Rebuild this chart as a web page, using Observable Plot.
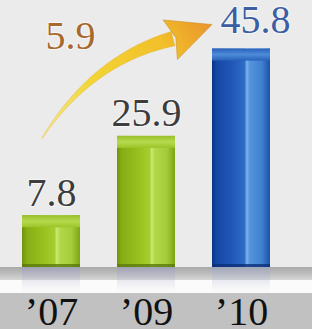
<!DOCTYPE html>
<html><head><meta charset="utf-8">
<script src="https://cdn.jsdelivr.net/npm/d3@7"></script>
<script src="https://cdn.jsdelivr.net/npm/@observablehq/plot@0.6"></script>
<style>
html,body{margin:0;padding:0;background:#ebebeb;overflow:hidden;}
#chart svg{display:block;}
#chart svg text{font-family:"Liberation Serif","Times New Roman",Times,serif !important;}
</style></head><body><div id="chart"></div>
<script>
// ---- data ----
const years = ["’07", "’09", "’10"];
const values = [7.8, 25.9, 45.8];
const growthLabel = "5.9";
const highlightYear = "’10";

const data = years.map((year, i) => ({year, value: values[i], hi: year === highlightYear}));
const yMin = -4, yMax = 47.3;
const serif = "Liberation Serif";

const plot = Plot.plot({
  width: 312, height: 329,
  marginTop: 42, marginBottom: 62, marginLeft: 3, marginRight: 23,
  style: {background: "transparent", overflow: "visible", fontFamily: serif},
  x: {domain: years, paddingInner: 0.39, paddingOuter: 0.2, label: null},
  y: {domain: [yMin, yMax], axis: null},
  color: {type: "identity"},
  marks: [
    // reflection
    Plot.barY(data, {x: "year", y1: yMin, y2: yMin, insetBottom: -26,
      fill: d => d.hi ? "url(#reflB)" : "url(#reflG)"}),
    // bar body
    Plot.barY(data, {x: "year", y1: yMin, y2: "value",
      fill: d => d.hi ? "url(#blueFace)" : "url(#greenFace)"}),
    // top cap
    Plot.barY(data, {x: "year", y1: "value", y2: "value", insetBottom: -12,
      fill: d => d.hi ? "url(#blueCap)" : "url(#greenCap)"}),
    // bottom edge
    Plot.barY(data, {x: "year", y1: yMin, y2: yMin, insetTop: -3,
      fill: d => d.hi ? "#0b2f78" : "#5a7a0c", fillOpacity: 0.8}),
    Plot.axisX({tickSize: 0, tickPadding: 29, fontSize: 40, fontFamily: serif, fill: "#111", label: null}),
    Plot.text(data.filter(d => !d.hi), {x: "year", y: "value", text: d => d.value.toFixed(1),
      dy: -10, lineAnchor: "bottom", fontSize: 40, fontFamily: serif, fill: "#3d3d3d",
      stroke: "white", strokeWidth: 2, strokeOpacity: 0.6}),
    Plot.text(data.filter(d => d.hi), {x: "year", y: "value", text: d => d.value.toFixed(1),
      dx: 14, dy: -16, lineAnchor: "bottom", fontSize: 40, fontFamily: serif, fill: "#3c5ea3",
      stroke: "white", strokeWidth: 2, strokeOpacity: 0.6}),
    Plot.text([{label: growthLabel}], {x: () => years[0], y: () => values[values.length - 1],
      text: "label", dx: 19, lineAnchor: "bottom", fontSize: 40, fontFamily: serif, fill: "#a8692e",
      stroke: "white", strokeWidth: 2, strokeOpacity: 0.6})
  ]
});
document.getElementById("chart").append(plot);

// ---- decoration: gradients, floor bands, growth arrow ----
const svg = d3.select(plot);
const xs = plot.scale("x"), ys = plot.scale("y");
const bw = xs.bandwidth;
const y0 = ys.apply(yMin);

const bg = svg.insert("g", ":first-child");
bg.append("rect").attr("x", 0).attr("y", y0).attr("width", 312).attr("height", 13).attr("fill", "url(#band1)");
bg.append("rect").attr("x", 0).attr("y", y0 + 13).attr("width", 312).attr("height", 13).attr("fill", "#fbfbfb");
bg.append("rect").attr("x", 0).attr("y", y0 + 26).attr("width", 312).attr("height", 329 - y0 - 26).attr("fill", "#c1c1c1");

const defs = svg.insert("defs", ":first-child");
defs.html(`
<linearGradient id="band1" x1="0" y1="0" x2="0" y2="1">
  <stop offset="0" stop-color="#a9a9a9"/><stop offset="0.5" stop-color="#bdbdbd"/><stop offset="1" stop-color="#d6d6d6"/>
</linearGradient>
<linearGradient id="greenFace" x1="0" y1="0" x2="1" y2="0">
  <stop offset="0" stop-color="#6e920c"/><stop offset="0.08" stop-color="#86ad14"/>
  <stop offset="0.35" stop-color="#97c01e"/><stop offset="0.56" stop-color="#a5cd2e"/>
  <stop offset="0.6" stop-color="#cbe972"/><stop offset="0.65" stop-color="#b2d84a"/>
  <stop offset="0.86" stop-color="#a4cc3a"/><stop offset="1" stop-color="#7da414"/>
</linearGradient>
<linearGradient id="blueFace" x1="0" y1="0" x2="1" y2="0">
  <stop offset="0" stop-color="#083584"/><stop offset="0.08" stop-color="#1548a6"/>
  <stop offset="0.35" stop-color="#2158b8"/><stop offset="0.56" stop-color="#2f6cc8"/>
  <stop offset="0.6" stop-color="#7ab4ec"/><stop offset="0.65" stop-color="#5494dc"/>
  <stop offset="0.86" stop-color="#3f80d0"/><stop offset="1" stop-color="#1a52a8"/>
</linearGradient>
<linearGradient id="greenCap" x1="0" y1="0" x2="0" y2="1">
  <stop offset="0" stop-color="#98bf2a"/><stop offset="0.5" stop-color="#b6da4e"/><stop offset="1" stop-color="#9cc428"/>
</linearGradient>
<linearGradient id="blueCap" x1="0" y1="0" x2="0" y2="1">
  <stop offset="0" stop-color="#2a62bc"/><stop offset="0.5" stop-color="#4d8cd8"/><stop offset="1" stop-color="#2860b8"/>
</linearGradient>
<linearGradient id="reflG" x1="0" y1="0" x2="0" y2="1">
  <stop offset="0" stop-color="#9c9cc0" stop-opacity="0.6"/><stop offset="1" stop-color="#d8d8e8" stop-opacity="0"/>
</linearGradient>
<linearGradient id="reflB" x1="0" y1="0" x2="0" y2="1">
  <stop offset="0" stop-color="#9ca6c4" stop-opacity="0.6"/><stop offset="1" stop-color="#d8d8e8" stop-opacity="0"/>
</linearGradient>`);

// growth arrow from first to last value
const T = [xs.apply(years[0]) + bw / 2 - 9, ys.apply(values[0]) - 77];
const P = [xs.apply(years[years.length - 1]), ys.apply(values[values.length - 1]) - 24];
const dv = [P[0] - T[0], P[1] - T[1]];
const B = [T[0] + 0.771 * dv[0], T[1] + 0.876 * dv[1]];
const C = [T[0] + 0.297 * dv[0], T[1] + 0.695 * dv[1]];
const left = [], right = [];
for (let i = 0; i <= 30; i++) {
  const t = i / 30, mt = 1 - t;
  const px = mt * mt * T[0] + 2 * mt * t * C[0] + t * t * B[0];
  const py = mt * mt * T[1] + 2 * mt * t * C[1] + t * t * B[1];
  const ddx = 2 * mt * (C[0] - T[0]) + 2 * t * (B[0] - C[0]);
  const ddy = 2 * mt * (C[1] - T[1]) + 2 * t * (B[1] - C[1]);
  const len = Math.hypot(ddx, ddy);
  const nx = -ddy / len, ny = ddx / len;
  const w = 0.4 + 7 * Math.pow(t, 1.1);
  left.push([px + nx * w, py + ny * w]);
  right.push([px - nx * w, py - ny * w]);
}
const shaft = left.concat(right.reverse());
const ul = Math.hypot(P[0] - B[0], P[1] - B[1]);
const u = [(P[0] - B[0]) / ul, (P[1] - B[1]) / ul];
const n = [-u[1], u[0]];
const head = [
  [B[0] + n[0] * 21 - u[0] * 3, B[1] + n[1] * 21 - u[1] * 3],
  P,
  [B[0] - n[0] * 21 - u[0] * 3, B[1] - n[1] * 21 - u[1] * 3],
  [B[0] + u[0] * 3, B[1] + u[1] * 3]
];
const ag = defs.append("linearGradient").attr("id", "arrowGrad").attr("gradientUnits", "userSpaceOnUse")
  .attr("x1", T[0]).attr("y1", T[1]).attr("x2", P[0]).attr("y2", P[1]);
[[0, "#f4ea9a"], [0.35, "#f1d635"], [0.75, "#f2bf2a"], [1, "#e8952c"]].forEach(([o, c]) =>
  ag.append("stop").attr("offset", o).attr("stop-color", c));
const ga = svg.append("g");
const line = d3.line();
ga.append("path").attr("d", line(shaft) + "Z").attr("fill", "url(#arrowGrad)")
  .attr("stroke", "#e0b030").attr("stroke-width", 0.4);
ga.append("path").attr("d", line(head) + "Z").attr("fill", "url(#arrowGrad)")
  .attr("stroke", "#d0902a").attr("stroke-width", 0.6);
</script></body></html>
